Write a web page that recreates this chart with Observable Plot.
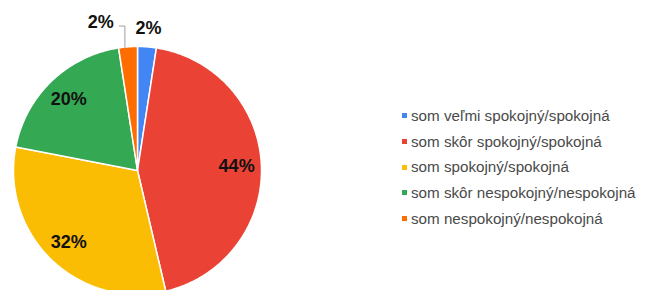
<!DOCTYPE html>
<html>
<head>
<meta charset="utf-8">
<script src="https://cdn.jsdelivr.net/npm/d3@7"></script>
<script src="https://cdn.jsdelivr.net/npm/@observablehq/plot@0.6"></script>
<style>
  html, body { margin: 0; padding: 0; background: #fff; overflow: hidden; }
  #wrap { position: relative; width: 645px; height: 290px; overflow: hidden; }
  #wrap svg { position: absolute; left: 0; top: 0; overflow: hidden; }
  #legend { position: absolute; left: 402px; top: 103px; font-family: "Liberation Sans", Arial, sans-serif; font-size: 15.2px; color: #4a4a4a; }
  #legend .row { height: 25.7px; line-height: 25.7px; white-space: nowrap; display: flex; align-items: center; }
  #legend .sw { width: 5px; height: 5px; margin-right: 4px; flex: none; }
</style>
</head>
<body>
<div id="wrap"></div>
<script>
// ---- data ----
const categories = [
  "som veľmi spokojný/spokojná",
  "som skôr spokojný/spokojná",
  "som spokojný/spokojná",
  "som skôr nespokojný/nespokojná",
  "som nespokojný/nespokojná"
];
const counts = [1, 18, 13, 8, 1];
const colors = ["#4285f4", "#ea4335", "#fbbc04", "#34a853", "#ff6d01"];

// ---- derived ----
const total = d3.sum(counts);
const table = categories.map((c, i) => ({cat: c, count: counts[i]}));
const arcs = d3.pie().sort(null).value(d => d.count)(table);
const pct = a => Math.round(a.data.count / total * 100) + "%";
const pt = (ang, r) => ({x: r * Math.sin(ang), y: r * Math.cos(ang)});

// slice polygons
const poly = [];
arcs.forEach(a => {
  poly.push({cat: a.data.cat, ...pt(0, 0)});
  const n = Math.max(2, Math.ceil((a.endAngle - a.startAngle) / (Math.PI / 360)));
  for (let k = 0; k <= n; k++) {
    const ang = a.startAngle + (a.endAngle - a.startAngle) * k / n;
    poly.push({cat: a.data.cat, ...pt(ang, 1)});
  }
});

const mid = a => (a.startAngle + a.endAngle) / 2;
const big = arcs.filter(a => a.data.count / total >= 0.05);
const small = arcs.filter(a => a.data.count / total < 0.05);

const inside = big.map(a => ({label: pct(a), ...pt(mid(a), 0.8)}));

// outside labels for tiny slices (first one direct, later ones lifted with a leader)
const outsideDirect = [];
const outsideLeader = [];
const leaders = [];
small.forEach((a, i) => {
  if (i === 0) {
    outsideDirect.push({label: pct(a), ...pt(mid(a), 1.15)});
  } else {
    const s = pt(mid(a), 1.0);
    const lx = s.x - 0.025;
    const kneeY = 1.165;
    leaders.push({id: i, x: lx, y: s.y - 0.01}, {id: i, x: lx, y: kneeY}, {id: i, x: lx - 0.045, y: kneeY});
    outsideLeader.push({label: pct(a), x: lx - 0.09, y: kneeY + 0.03});
  }
});

const font = "'Liberation Sans', Arial, sans-serif";
const chart = Plot.plot({
  width: 390,
  height: 290,
  margin: 0,
  x: {domain: [-1, 1], range: [13, 261], axis: null},
  y: {domain: [-1, 1], range: [294, 46], axis: null},
  color: {domain: categories, range: colors},
  style: {background: "white", fontFamily: font},
  marks: [
    Plot.line(poly, {x: "x", y: "y", z: "cat", fill: "cat", stroke: "white", strokeWidth: 1.5, curve: "linear-closed"}),
    Plot.line(leaders, {x: "x", y: "y", z: "id", stroke: "#9e9e9e", strokeWidth: 1}),
    Plot.text(inside, {x: "x", y: "y", text: "label", fontSize: 18, fontWeight: "bold", fill: "#111"}),
    Plot.text(outsideDirect, {x: "x", y: "y", text: "label", fontSize: 18, fontWeight: "bold", fill: "#111"}),
    Plot.text(outsideLeader, {x: "x", y: "y", text: "label", textAnchor: "end", fontSize: 18, fontWeight: "bold", fill: "#111"})
  ]
});
document.getElementById("wrap").appendChild(chart);

// legend
const legend = document.createElement("div");
legend.id = "legend";
categories.forEach((c, i) => {
  const row = document.createElement("div");
  row.className = "row";
  const sw = document.createElement("span");
  sw.className = "sw";
  sw.style.background = colors[i];
  const t = document.createElement("span");
  t.textContent = c;
  row.appendChild(sw);
  row.appendChild(t);
  legend.appendChild(row);
});
document.getElementById("wrap").appendChild(legend);
</script>
</body>
</html>
